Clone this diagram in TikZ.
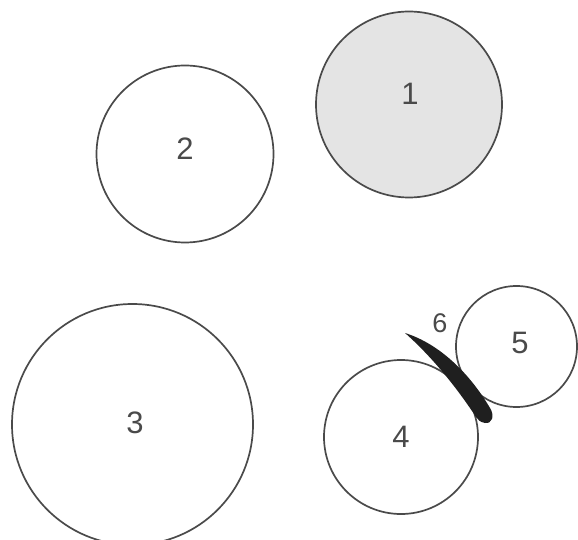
\documentclass[tikz,border=0pt]{standalone}
\usepackage{fontspec}
\setmainfont{Liberation Sans}
\definecolor{inkgray}{HTML}{4A4A4A}
\definecolor{fillgray}{HTML}{E4E4E4}
\begin{document}
\begin{tikzpicture}[x=1pt,y=-1pt,
  wheel/.style={circle,draw=inkgray,line width=1.7pt,inner sep=0pt},
  num/.style={inner sep=0pt,text=inkgray,font=\fontsize{31}{33}\selectfont}]
\useasboundingbox (0,0) rectangle (578,540);
\clip (0,0) rectangle (578,540);
\node[wheel,fill=fillgray,minimum size=186pt] (c1) at (409,104.5) {};
\node[wheel,minimum size=177pt] (c2) at (185,154) {};
\node[wheel,minimum size=241pt] (c3) at (132.5,424.5) {};
\node[wheel,minimum size=154pt] (c4) at (401,437) {};
\node[wheel,minimum size=121pt] (c5) at (516.5,346.5) {};
\fill[black!88] (405,333) .. controls (440,344) and (470,374) .. (490,408)
  .. controls (495,416) and (492,424) .. (485,423)
  .. controls (480,422) and (478,420) .. (476,417)
  .. controls (455,385) and (430,355) .. (405,333) -- cycle;
\node[num] (l1) at (410,94) {1};
\node[num] (l2) at (185,148.5) {2};
\node[num] (l3) at (135,422.5) {3};
\node[num] (l4) at (401,437) {4};
\node[num] (l5) at (520,343) {5};
\node[num,font=\fontsize{27}{29}\selectfont] (l6) at (440,323) {6};
\end{tikzpicture}
\end{document}
